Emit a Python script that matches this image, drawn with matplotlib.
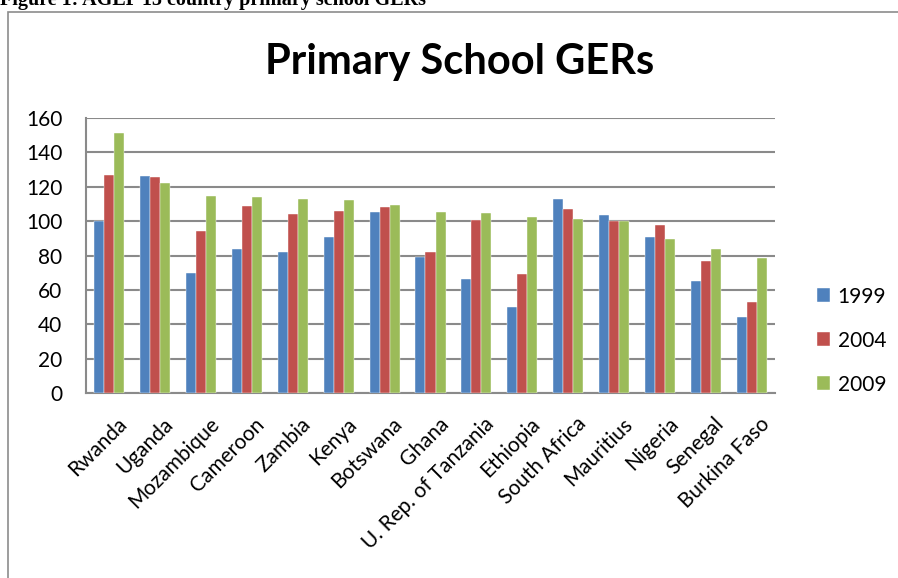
import matplotlib
matplotlib.use("Agg")
import matplotlib.pyplot as plt
import numpy as np
from matplotlib.patches import Rectangle

countries = ["Rwanda", "Uganda", "Mozambique", "Cameroon", "Zambia", "Kenya",
             "Botswana", "Ghana", "U. Rep. of Tanzania", "Ethiopia", "South Africa",
             "Mauritius", "Nigeria", "Senegal", "Burkina Faso"]
years = ["1999", "2004", "2009"]
v1999 = [100, 126, 70, 84, 82, 91, 105.5, 79, 66.5, 50, 113, 103.5, 91, 65, 44]
v2004 = [127, 125.5, 94.5, 109, 104, 106, 108, 82, 100.5, 69, 107, 100, 98, 77, 53]
v2009 = [151, 122, 114.5, 114, 113, 112.5, 109.5, 105.5, 105, 102.5, 101, 100, 89.5, 84, 78.5]
yticks = [0, 20, 40, 60, 80, 100, 120, 140, 160]
colors = ["#4F81BD", "#C0504D", "#9BBB59"]

W, H = 898, 578
fig = plt.figure(figsize=(W / 100, H / 100), dpi=100)
font = "Lato"

# Chart frame
fig.patches.append(Rectangle((8 / W, -0.1), 1.2, 1 - 12 / H + 0.1,
                             transform=fig.transFigure, fill=False,
                             edgecolor="#8c8c8c", linewidth=1.2))

# Caption (partially cut, as in the source page)
fig.text(0.0, 1 - 5 / H, "Figure 1: AGEP 15 country primary school GERs",
         family="Liberation Serif", weight="bold", fontsize=14.5,
         ha="left", va="baseline")

ax = fig.add_axes([86 / W, 1 - 393 / H, (775 - 86) / W, (393 - 118) / H])
x = np.arange(len(countries))
w = 0.218
for i, (vals, lab) in enumerate(zip([v1999, v2004, v2009], years)):
    ax.bar(x + (i - 1) * w, vals, width=w, color=colors[i], label=lab,
           edgecolor="white", linewidth=0.3, zorder=3)

ax.set_ylim(0, 160)
ax.set_xlim(-0.5, len(countries) - 0.5)
ax.set_yticks(yticks)
ax.set_yticklabels([str(t) for t in yticks], family=font, fontsize=15)
ax.yaxis.grid(True, color="#8a8a8a", linewidth=1.5, zorder=0)
ax.set_axisbelow(True)
ax.tick_params(axis="y", length=0, pad=17)
ax.tick_params(axis="x", length=0, pad=15)
ax.set_xticks(x + 0.17)
ax.set_xticklabels(countries, rotation=45, ha="right", va="top",
                   rotation_mode="anchor", family=font, fontsize=15)
for s in ["top", "right"]:
    ax.spines[s].set_visible(False)
for s in ["left", "bottom"]:
    ax.spines[s].set_color("#8a8a8a")
    ax.spines[s].set_linewidth(1.5)

fig.text(460 / W, 1 - 62 / H, "Primary School GERs", family=font, weight="bold",
         fontsize=30, ha="center", va="center")

leg = ax.legend(loc="upper left", bbox_to_anchor=(798 / W, 1 - 268 / H),
                bbox_transform=fig.transFigure, frameon=False,
                prop={"family": font, "size": 15}, handlelength=0.65,
                handleheight=0.65, handletextpad=0.35, labelspacing=1.15)

fig.savefig("out.png", dpi=100)
